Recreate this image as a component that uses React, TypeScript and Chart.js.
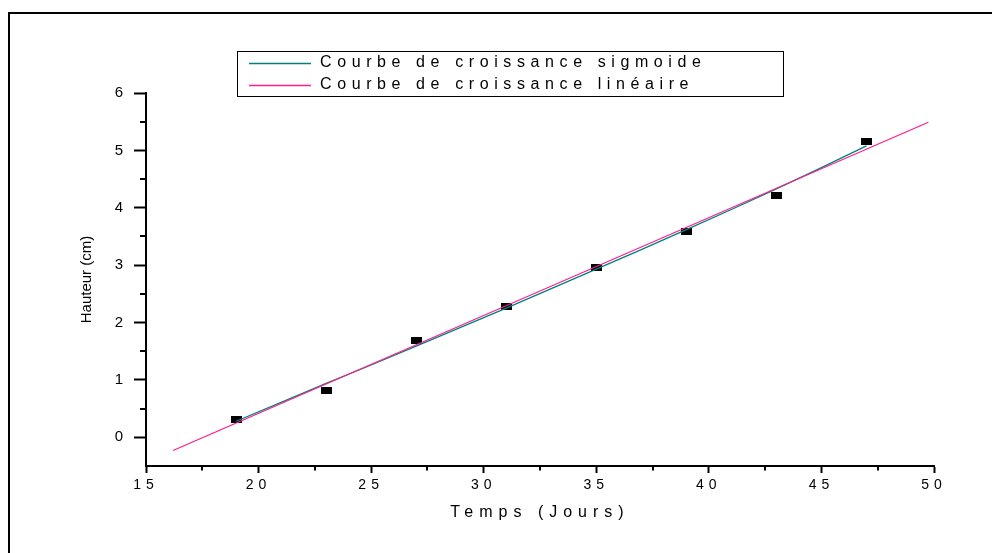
import { useEffect, useRef } from 'react';
import { Chart, registerables } from 'chart.js';

Chart.register(...registerables);

// ---- data ----
const dayPoints = [19, 23, 27, 31, 35, 39, 43, 47];
const heightPoints = [0.31, 0.82, 1.68, 2.28, 2.96, 3.58, 4.22, 5.15];

const sigmoidDays = [19, 21, 23, 25, 27, 29, 31, 33, 35, 37, 39, 41, 43, 45, 47];
const sigmoidHeights = [0.28, 0.61, 0.94, 1.26, 1.59, 1.92, 2.25, 2.59, 2.93, 3.27, 3.62, 3.97, 4.33, 4.7, 5.08];

const linearDays = [16.2, 49.75];
const linearHeights = [-0.23, 5.49];

const xMinorTicks = [17.5, 22.5, 27.5, 32.5, 37.5, 42.5, 47.5];
const yMinorTicks = [0.5, 1.5, 2.5, 3.5, 4.5, 5.5];

const seriesLabels = ['Courbe de croissance sigmoide', 'Courbe de croissance linéaire'];
const xTitle = 'Temps (Jours)';
const yTitle = 'Hauteur (cm)';

const FONT = 'Arial, "Liberation Sans", sans-serif';
const TEAL = '#008080';
const PINK = '#ff1f8f';

const decorPlugin = {
  id: 'decor',
  beforeDraw(chart: any) {
    const xs: any = chart.scales.x;
    if (xs && !xs._lsPatched) {
      const origLabels = xs.drawLabels.bind(xs);
      xs.drawLabels = (area: any) => {
        const c = chart.ctx;
        c.save();
        c.letterSpacing = '5px';
        origLabels(area);
        c.restore();
      };
      const origTitle = xs.drawTitle.bind(xs);
      xs.drawTitle = (area: any) => {
        const c = chart.ctx;
        c.save();
        c.letterSpacing = '6px';
        origTitle(area);
        c.restore();
      };
      xs._lsPatched = true;
    }
    const ctx = chart.ctx;
    ctx.save();
    ctx.fillStyle = '#000';
    // outer frame (top and left edges visible)
    ctx.fillRect(8, 12, 992, 2);
    ctx.fillRect(8, 12, 2, 560);
    ctx.restore();
  },
  afterDraw(chart: any) {
    const ctx = chart.ctx;
    const xs = chart.scales.x;
    const ys = chart.scales.y;
    const area = chart.chartArea;
    ctx.save();
    ctx.strokeStyle = '#000';
    ctx.lineWidth = 2;
    ctx.beginPath();
    xMinorTicks.forEach((v) => {
      const px = Math.round(xs.getPixelForValue(v));
      ctx.moveTo(px, area.bottom);
      ctx.lineTo(px, area.bottom + 4.5);
    });
    yMinorTicks.forEach((v) => {
      const py = Math.round(ys.getPixelForValue(v));
      ctx.moveTo(area.left - 6, py);
      ctx.lineTo(area.left, py);
    });
    ctx.stroke();

    // legend box
    ctx.lineWidth = 1;
    ctx.strokeStyle = '#000';
    ctx.strokeRect(237.5, 51.5, 546, 45);
    const rows = [
      { y: 63.5, color: TEAL, label: chart.data.datasets[1].label },
      { y: 85.5, color: PINK, label: chart.data.datasets[2].label },
    ];
    rows.forEach((r) => {
      ctx.strokeStyle = r.color;
      ctx.lineWidth = 1.4;
      ctx.beginPath();
      ctx.moveTo(249, r.y);
      ctx.lineTo(311, r.y);
      ctx.stroke();
      ctx.fillStyle = '#000';
      ctx.font = '16px ' + FONT;
      ctx.letterSpacing = '5.6px';
      ctx.textBaseline = 'middle';
      ctx.textAlign = 'left';
      ctx.fillText(r.label, 320, r.y - 1);
    });
    ctx.restore();
  },
};

export default function App() {
  const canvasRef = useRef<HTMLCanvasElement | null>(null);

  useEffect(() => {
    const canvas = canvasRef.current;
    if (!canvas) return;

    const marker = document.createElement('canvas');
    marker.width = 11;
    marker.height = 7;
    const mctx = marker.getContext('2d');
    if (mctx) {
      mctx.fillStyle = '#000';
      mctx.fillRect(0, 0, 11, 7);
    }

    Chart.defaults.font.family = FONT;
    Chart.defaults.color = '#000';

    const chart = new Chart(canvas, {
      type: 'scatter',
      data: {
        datasets: [
          {
            label: 'Mesures',
            data: dayPoints.map((x, i) => ({ x, y: heightPoints[i] })),
            pointStyle: marker as any,
            pointRadius: 5,
            showLine: false,
            order: 3,
          },
          {
            label: seriesLabels[0],
            data: sigmoidDays.map((x, i) => ({ x, y: sigmoidHeights[i] })),
            showLine: true,
            borderColor: TEAL,
            borderWidth: 1.3,
            pointRadius: 0,
            order: 2,
          },
          {
            label: seriesLabels[1],
            data: linearDays.map((x, i) => ({ x, y: linearHeights[i] })),
            showLine: true,
            borderColor: PINK,
            borderWidth: 1.3,
            pointRadius: 0,
            order: 1,
          },
        ],
      },
      options: {
        responsive: false,
        animation: false,
        devicePixelRatio: 1,
        layout: { padding: { left: 0, top: 93, right: 58, bottom: 0 } },
        plugins: {
          legend: { display: false },
          tooltip: { enabled: false },
        },
        scales: {
          x: {
            type: 'linear',
            position: 'bottom',
            min: 15,
            max: 50,
            afterFit: (s: any) => {
              s.height = 87;
            },
            ticks: {
              stepSize: 5,
              color: '#000',
              font: { size: 14, family: FONT },
              padding: 4,
              maxRotation: 0,
            },
            grid: {
              drawOnChartArea: false,
              drawTicks: true,
              tickLength: 7,
              tickColor: '#000',
              tickWidth: 2,
            },
            border: { display: true, color: '#000', width: 2 },
            title: {
              display: true,
              text: xTitle,
              color: '#000',
              font: { size: 16, family: FONT },
              padding: { top: 0, bottom: 31 },
            },
          },
          y: {
            type: 'linear',
            position: 'left',
            min: -0.5,
            max: 6,
            afterFit: (s: any) => {
              s.width = 146;
            },
            ticks: {
              stepSize: 1,
              includeBounds: false,
              color: '#000',
              font: { size: 15, family: FONT },
              padding: 11,
            },
            grid: {
              drawOnChartArea: false,
              drawTicks: true,
              tickLength: 12,
              tickColor: '#000',
              tickWidth: 2,
            },
            border: { display: true, color: '#000', width: 2 },
            title: {
              display: true,
              text: yTitle,
              color: '#000',
              font: { size: 15, family: FONT },
              padding: { top: 78, bottom: 0 },
            },
          },
        },
      } as any,
      plugins: [decorPlugin],
    });

    return () => {
      chart.destroy();
    };
  }, []);

  return (
    <div style={{ position: 'absolute', left: 0, top: 0, width: 992, height: 553, background: '#fff' }}>
      <canvas ref={canvasRef} width={992} height={553} style={{ display: 'block' }} />
    </div>
  );
}
